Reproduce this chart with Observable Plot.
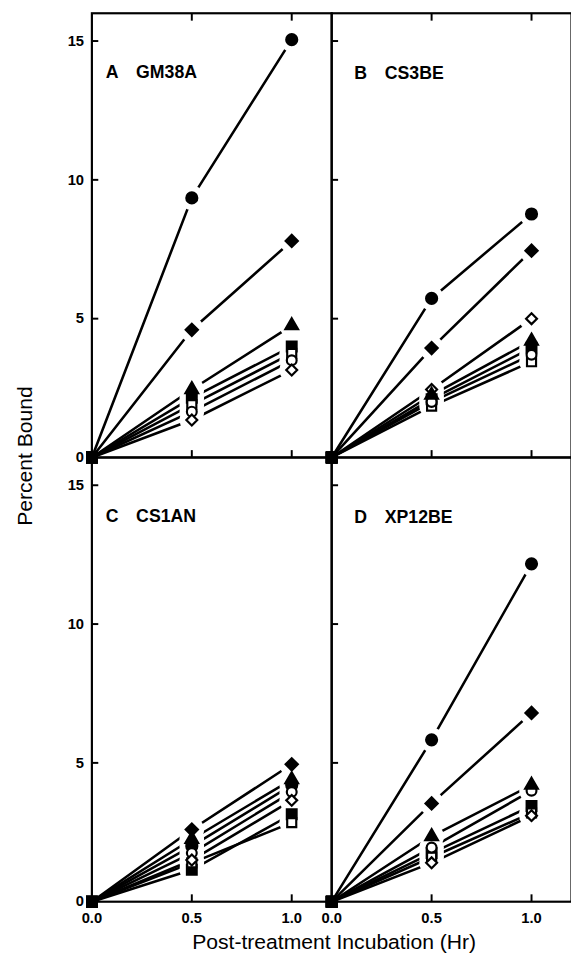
<!DOCTYPE html>
<html><head><meta charset="utf-8">
<script src="https://cdn.jsdelivr.net/npm/d3@7"></script>
<script src="https://cdn.jsdelivr.net/npm/@observablehq/plot@0.6"></script>
<style>
html,body{margin:0;padding:0;background:#fff;overflow:hidden;}
#wrap{position:relative;width:571px;height:971px;overflow:hidden;}
</style></head><body>
<div id="wrap"></div>
<script>
// Time points (Hr)
const times = [0, 0.5, 1.0];
// Panels
const panelLetters = ["A", "B", "C", "D"];
const panelNames = ["GM38A", "CS3BE", "CS1AN", "XP12BE"];
const panelCol = [0, 1, 0, 1];
const panelRow = [0, 0, 1, 1];
// Series (marker types)
const seriesNames = ["closed circle", "closed diamond", "closed triangle", "closed square", "open square", "open circle", "open diamond"];
const seriesSymbols = ["circle", "diamond2", "triangle", "square", "square", "circle", "diamond2"];
const seriesFilled = [true, true, true, true, false, false, false];
const seriesR = [5.6, 5.6, 4.8, 5.6, 5.2, 5.0, 5.0];
// Percent bound at 0, 0.5, 1.0 h, one row per series
const valuesA = [[0, 9.35, 15.05], [0, 4.6, 7.8], [0, 2.45, 4.75], [0, 2.15, 4.0], [0, 1.9, 3.75], [0, 1.65, 3.5], [0, 1.35, 3.15]];
const valuesB = [[0, 5.73, 8.77], [0, 3.94, 7.45], [0, 2.25, 4.2], [0, 2.1, 3.95], [0, 1.85, 3.45], [0, 2.0, 3.7], [0, 2.45, 5.0]];
const valuesC = [[0, 2.0, 4.2], [0, 2.6, 4.95], [0, 2.25, 4.4], [0, 1.15, 3.15], [0, 1.4, 2.85], [0, 1.75, 3.95], [0, 1.5, 3.65]];
const valuesD = [[0, 5.83, 12.17], [0, 3.54, 6.8], [0, 2.35, 4.2], [0, 1.75, 3.45], [0, 1.6, 3.2], [0, 1.95, 4.0], [0, 1.4, 3.1]];
const panelValues = [valuesA, valuesB, valuesC, valuesD];
// Axis ticks
const yTicks = [0, 5, 10, 15];
const xTicks = [0, 0.5, 1.0];
const xTitle = "Post-treatment Incubation (Hr)";
const yTitle = "Percent Bound";

const rows = [];
panelValues.forEach((vals, p) => {
  vals.forEach((arr, s) => {
    arr.forEach((v, i) => {
      rows.push({
        panel: p, col: panelCol[p], row: panelRow[p],
        series: seriesNames[s], key: p + "-" + s,
        filled: seriesFilled[s], r: seriesR[s],
        t: times[i], v
      });
    });
  });
});
const panels = panelLetters.map((l, p) => ({letter: l, name: panelNames[p], col: panelCol[p], row: panelRow[p]}));
const later = rows.filter(d => d.t > 0);
const origin = rows.filter(d => d.t === 0);
const font = "'Liberation Sans', Arial, Helvetica, sans-serif";

const chart = Plot.plot({
  width: 581, height: 971,
  marginLeft: 93, marginRight: 0, marginTop: 12, marginBottom: 54,
  style: {fontFamily: font, background: "transparent", overflow: "visible", color: "black"},
  x: {domain: [0, 1.2]},
  y: {domain: [0, 16]},
  fx: {axis: null, padding: 0},
  fy: {axis: null, padding: 0},
  r: {type: "identity"},
  symbol: {domain: seriesNames, range: seriesSymbols},
  marks: [
    Plot.line(rows, {x: "t", y: "v", z: "key", fx: "col", fy: "row", stroke: "black", strokeWidth: 2.6}),
    Plot.dot(later, {x: "t", y: "v", fx: "col", fy: "row", r: 12.5, fill: "white", stroke: "none"}),
    Plot.dot(later, {x: "t", y: "v", fx: "col", fy: "row", symbol: "series", r: "r",
      fill: d => d.filled ? "black" : "white", stroke: "black", strokeWidth: 2.2}),
    Plot.dot(origin, {x: "t", y: "v", fx: "col", fy: "row", symbol: "square", r: 6.8, fill: "black", stroke: "none"}),
    Plot.frame({stroke: "black", strokeWidth: 2.2}),
    Plot.axisY({anchor: "left", facetAnchor: "left", ticks: yTicks, tickSize: 0, tickPadding: 8, fontSize: 15, fontWeight: "bold", label: null}),
    Plot.axisY({anchor: "left", facetAnchor: null, ticks: yTicks.slice(1), tickSize: 7, dx: 7, strokeWidth: 2, tickFormat: () => "", label: null}),
    Plot.axisX({anchor: "bottom", facetAnchor: "bottom", ticks: xTicks, tickSize: 0, tickPadding: 11, tickFormat: d3.format(".1f"), fontSize: 15, fontWeight: "bold", label: null}),
    Plot.axisX({anchor: "bottom", facetAnchor: null, ticks: xTicks.slice(1), tickSize: 7, dy: -7, strokeWidth: 2, tickFormat: () => "", label: null}),
    Plot.axisX({anchor: "top", facetAnchor: "top", ticks: xTicks.slice(1), tickSize: 7, dy: 7, strokeWidth: 2, tickFormat: () => "", label: null}),
    Plot.text(panels.filter(d => d.col === 0), {fx: "col", fy: "row", text: d => d.letter + "\u2003" + d.name,
      frameAnchor: "top-left", textAnchor: "start", lineAnchor: "top", dx: 14, dy: 53, fontSize: 18, fontWeight: "bold"}),
    Plot.text(panels.filter(d => d.col === 1), {fx: "col", fy: "row", text: d => d.letter + "\u2003" + d.name,
      frameAnchor: "top-left", textAnchor: "start", lineAnchor: "top", dx: 23, dy: 54, fontSize: 18, fontWeight: "bold"})
  ]
});

const svg = d3.select(chart);
svg.append("text").attr("x", 340).attr("y", 966).attr("text-anchor", "middle")
  .attr("font-size", 21.5).attr("font-family", font).attr("fill", "black").text(xTitle);
svg.append("text").attr("transform", "translate(33,464) rotate(-90)").attr("text-anchor", "middle")
  .attr("font-size", 21.5).attr("font-family", font).attr("fill", "black").text(yTitle);

document.getElementById("wrap").appendChild(chart);
</script>
</body></html>
